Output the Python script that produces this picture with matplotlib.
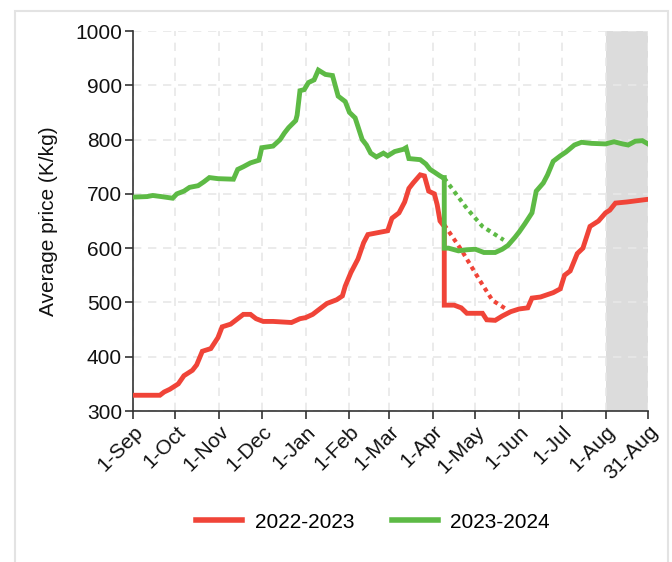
import matplotlib
matplotlib.use("Agg")
import matplotlib.pyplot as plt
from matplotlib.patches import Rectangle

plt.rcParams['font.family'] = ['Liberation Sans', 'DejaVu Sans']

# Day index from 1-Sep (0) to 31-Aug (364)
tick_days = [0, 30, 61, 91, 122, 153, 181, 212, 242, 273, 303, 334, 364]
tick_labels = ['1-Sep', '1-Oct', '1-Nov', '1-Dec', '1-Jan', '1-Feb', '1-Mar',
               '1-Apr', '1-May', '1-Jun', '1-Jul', '1-Aug', '31-Aug']

# 2022-2023 (solid)
red_days = [0, 19, 22, 26, 29, 32, 36, 42, 45, 49, 55, 60, 63, 69, 74, 78, 83, 87, 92,
            99, 112, 118, 122, 127, 133, 137, 144, 148, 150, 154, 159, 163, 166, 172,
            180, 183, 188, 192, 195, 198, 203, 206, 209, 213, 215, 217, 220, 220, 227,
            232, 236, 247, 250, 256, 261, 267, 273, 279, 282, 288, 297, 302, 305, 309,
            314, 318, 323, 329, 334, 337, 341, 349, 358, 364]
red_vals = [329, 329, 335, 340, 345, 350, 365, 375, 385, 410, 415, 435, 455, 460, 470,
            478, 478, 470, 465, 465, 463, 470, 472, 478, 490, 498, 505, 512, 530, 555,
            580, 610, 625, 628, 632, 655, 665, 685, 710, 720, 735, 733, 705, 700, 680,
            650, 640, 495, 495, 490, 480, 480, 468, 467, 475, 483, 488, 490, 508, 510,
            518, 525, 550, 558, 590, 600, 640, 650, 665, 670, 683, 685, 688, 690]

# 2022-2023 (dotted alternative)
red_dot_days = [220, 232, 245, 254, 263]
red_dot_vals = [643, 597, 541, 504, 489]

# 2023-2024 (solid)
green_days = [0, 10, 14, 20, 28, 31, 36, 40, 46, 50, 54, 60, 71, 74, 78, 83, 89, 91, 99,
              104, 107, 110, 115, 116, 118, 121, 124, 128, 131, 136, 141, 145, 150, 153,
              157, 162, 165, 168, 172, 177, 180, 185, 191, 193, 195, 203, 207, 210, 213,
              217, 219, 220, 220, 223, 230, 236, 242, 248, 256, 261, 265, 270, 273, 277,
              282, 285, 290, 293, 297, 302, 306, 312, 317, 324, 334, 340, 346, 350, 355,
              360, 364]
green_vals = [694, 695, 697, 695, 692, 700, 705, 712, 715, 722, 730, 728, 727, 745, 750,
              757, 762, 785, 788, 800, 812, 822, 835, 845, 890, 892, 905, 910, 928, 920,
              918, 880, 870, 850, 840, 800, 790, 775, 768, 775, 770, 778, 782, 785, 765,
              763, 755, 745, 740, 733, 730, 730, 600, 600, 595, 597, 598, 592, 592, 598,
              605, 620, 630, 645, 665, 705, 720, 735, 760, 770, 777, 790, 795, 793, 792,
              796, 792, 790, 797, 798, 792]

# 2023-2024 (dotted alternative)
green_dot_days = [220, 236, 247, 262]
green_dot_vals = [729, 673, 640, 615]

series_names = ['2022-2023', '2023-2024']
red = '#F04438'
green = '#5DBA45'

fig = plt.figure(figsize=(6.72, 5.62), dpi=100)
# outer frame
fig.patches.append(Rectangle((14.5 / 672, -0.05), (668 - 14.5) / 672, 1.05 - 10.5 / 562,
                             transform=fig.transFigure, fill=False,
                             edgecolor='#e3e3e3', linewidth=1.5))

ax = fig.add_axes([133 / 672, 1 - 411 / 562, (648 - 133) / 672, (411 - 31) / 562])

ax.axvspan(334, 364, color='#dcdcdc', zorder=0, lw=0)

ax.plot(red_dot_days, red_dot_vals, color=red, lw=3.0, linestyle=(0, (1.0, 1.0)),
        zorder=3)
ax.plot(green_dot_days, green_dot_vals, color=green, lw=3.0, linestyle=(0, (1.0, 1.0)),
        zorder=3)
ax.plot(red_days, red_vals, color=red, lw=3.5, label=series_names[0], zorder=4,
        solid_joinstyle='miter')
ax.plot(green_days, green_vals, color=green, lw=3.5, label=series_names[1], zorder=4,
        solid_joinstyle='miter')

ax.set_xlim(0, 364)
ax.set_ylim(300, 1000)
ax.set_yticks(range(300, 1001, 100))
ax.set_xticks(tick_days)
ax.set_xticklabels(tick_labels, rotation=45, ha='right', rotation_mode='anchor')

ax.grid(True, color='#e8e8e8', linestyle=(0, (5, 4)), linewidth=1.2, zorder=1)
ax.set_axisbelow(True)
for s in ['top', 'right']:
    ax.spines[s].set_visible(False)
for s in ['left', 'bottom']:
    ax.spines[s].set_color('#333333')
    ax.spines[s].set_linewidth(1.2)
ax.tick_params(axis='both', direction='out', length=6, width=1.2, color='#333333',
               labelsize=15, labelcolor='#111111', pad=2)

ax.set_ylabel('Average price (K/kg)', fontsize=15, color='#111111')
ax.yaxis.set_label_coords(-0.145, 0.5)

leg = fig.legend(loc='center', bbox_to_anchor=(373 / 672, 1 - 522 / 562), ncol=2,
                 frameon=False, fontsize=15, handlelength=2.2, handletextpad=0.6,
                 columnspacing=1.8)
for h in leg.get_lines():
    h.set_linewidth(4)

fig.savefig('out.png', dpi=100)
